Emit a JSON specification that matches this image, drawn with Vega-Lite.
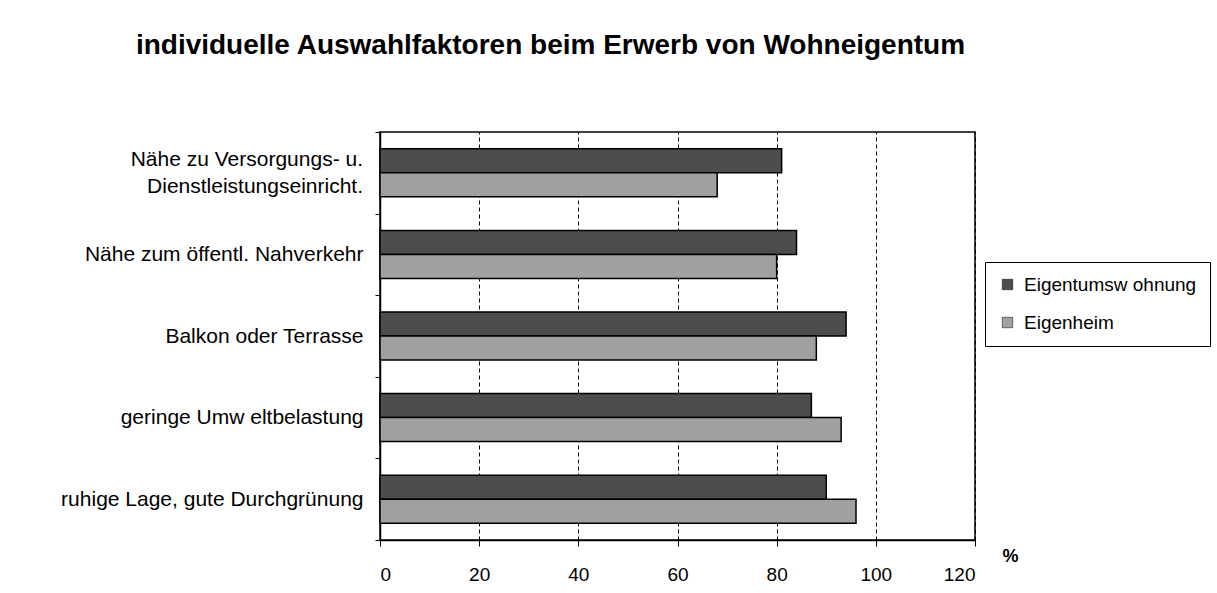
{
  "$schema": "https://vega.github.io/schema/vega-lite/v6.json",
  "autosize": {"type": "none"},
  "width": 595,
  "height": 408,
  "padding": {"left": 380, "top": 132, "right": 242, "bottom": 53},
  "background": "white",
  "title": {
    "text": "individuelle Auswahlfaktoren beim Erwerb von Wohneigentum",
    "font": "Liberation Sans",
    "fontSize": 28,
    "fontWeight": "bold",
    "color": "black",
    "anchor": "middle",
    "dx": -127,
    "offset": 61
  },
  "layer": [
    {
      "data": {
        "values": [
          {"kategorie": "Nähe zu Versorgungs- u. Dienstleistungseinricht.", "serie": "Eigentumsw ohnung", "wert": 81},
          {"kategorie": "Nähe zu Versorgungs- u. Dienstleistungseinricht.", "serie": "Eigenheim", "wert": 68},
          {"kategorie": "Nähe zum öffentl. Nahverkehr", "serie": "Eigentumsw ohnung", "wert": 84},
          {"kategorie": "Nähe zum öffentl. Nahverkehr", "serie": "Eigenheim", "wert": 80},
          {"kategorie": "Balkon oder Terrasse", "serie": "Eigentumsw ohnung", "wert": 94},
          {"kategorie": "Balkon oder Terrasse", "serie": "Eigenheim", "wert": 88},
          {"kategorie": "geringe Umw eltbelastung", "serie": "Eigentumsw ohnung", "wert": 87},
          {"kategorie": "geringe Umw eltbelastung", "serie": "Eigenheim", "wert": 93},
          {"kategorie": "ruhige Lage, gute Durchgrünung", "serie": "Eigentumsw ohnung", "wert": 90},
          {"kategorie": "ruhige Lage, gute Durchgrünung", "serie": "Eigenheim", "wert": 96}
        ]
      },
      "mark": {"type": "bar", "stroke": "black", "strokeWidth": 1.5},
      "encoding": {
        "y": {
          "field": "kategorie",
          "type": "nominal",
          "sort": null,
          "scale": {
            "domain": [
              "Nähe zu Versorgungs- u. Dienstleistungseinricht.",
              "Nähe zum öffentl. Nahverkehr",
              "Balkon oder Terrasse",
              "geringe Umw eltbelastung",
              "ruhige Lage, gute Durchgrünung"
            ],
            "paddingInner": 0,
            "paddingOuter": 0
          },
          "axis": {
            "title": null,
            "labelFont": "Liberation Sans",
            "labelFontSize": 21,
            "labelColor": "black",
            "labelPadding": 12,
            "labelLimit": 400,
            "tickBand": "extent",
            "tickSize": 5,
            "tickColor": "black",
            "domainColor": "black",
            "domainWidth": 1.5,
            "grid": false,
            "labelExpr": "datum.label == 'Nähe zu Versorgungs- u. Dienstleistungseinricht.' ? '' : datum.label"
          }
        },
        "yOffset": {
          "field": "serie",
          "type": "nominal",
          "sort": ["Eigentumsw ohnung", "Eigenheim"],
          "scale": {"paddingInner": 0, "paddingOuter": 0.7}
        },
        "x": {
          "field": "wert",
          "type": "quantitative",
          "scale": {"domain": [0, 120], "nice": false},
          "axis": {
            "values": [0, 20, 40, 60, 80, 100, 120],
            "title": "%",
            "titleFont": "Liberation Sans",
            "titleFontSize": 18,
            "titleFontWeight": "bold",
            "titleColor": "black",
            "titleX": 630,
            "titleY": 16,
            "titleAlign": "center",
            "titleBaseline": "middle",
            "labelFont": "Liberation Sans",
            "labelFontSize": 19,
            "labelColor": "black",
            "labelPadding": 19,
            "tickSize": 6,
            "tickColor": "black",
            "domainColor": "black",
            "domainWidth": 1.5,
            "grid": true,
            "gridColor": "black",
            "gridDash": [4, 3],
            "gridWidth": 1
          }
        },
        "fill": {
          "field": "serie",
          "type": "nominal",
          "scale": {"domain": ["Eigentumsw ohnung", "Eigenheim"], "range": ["#4d4d4d", "#a0a0a0"]},
          "legend": {
            "title": null,
            "orient": "none",
            "legendX": 605,
            "legendY": 130,
            "strokeColor": "black",
            "fillColor": "white",
            "padding": 13,
            "labelFont": "Liberation Sans",
            "labelFontSize": 19,
            "labelColor": "black",
            "labelLimit": 300,
            "symbolType": "square",
            "symbolSize": 110,
            "symbolStrokeColor": "black",
            "symbolStrokeWidth": 0.5,
            "rowPadding": 18,
            "labelOffset": 7
          }
        }
      }
    },
    {
      "data": {
        "values": [
          {"kategorie": "Nähe zu Versorgungs- u. Dienstleistungseinricht.", "start": 0}
        ]
      },
      "mark": {
        "type": "text",
        "align": "right",
        "baseline": "middle",
        "dx": -17,
        "dy": -13,
        "lineHeight": 27,
        "font": "Liberation Sans",
        "fontSize": 21,
        "color": "black"
      },
      "encoding": {
        "y": {"field": "kategorie", "type": "nominal", "sort": null},
        "x": {"field": "start", "type": "quantitative"},
        "text": {"value": ["Nähe zu Versorgungs- u.", "Dienstleistungseinricht."]}
      }
    }
  ],
  "config": {
    "view": {"stroke": "black", "strokeWidth": 1.5},
    "font": "Liberation Sans"
  }
}
